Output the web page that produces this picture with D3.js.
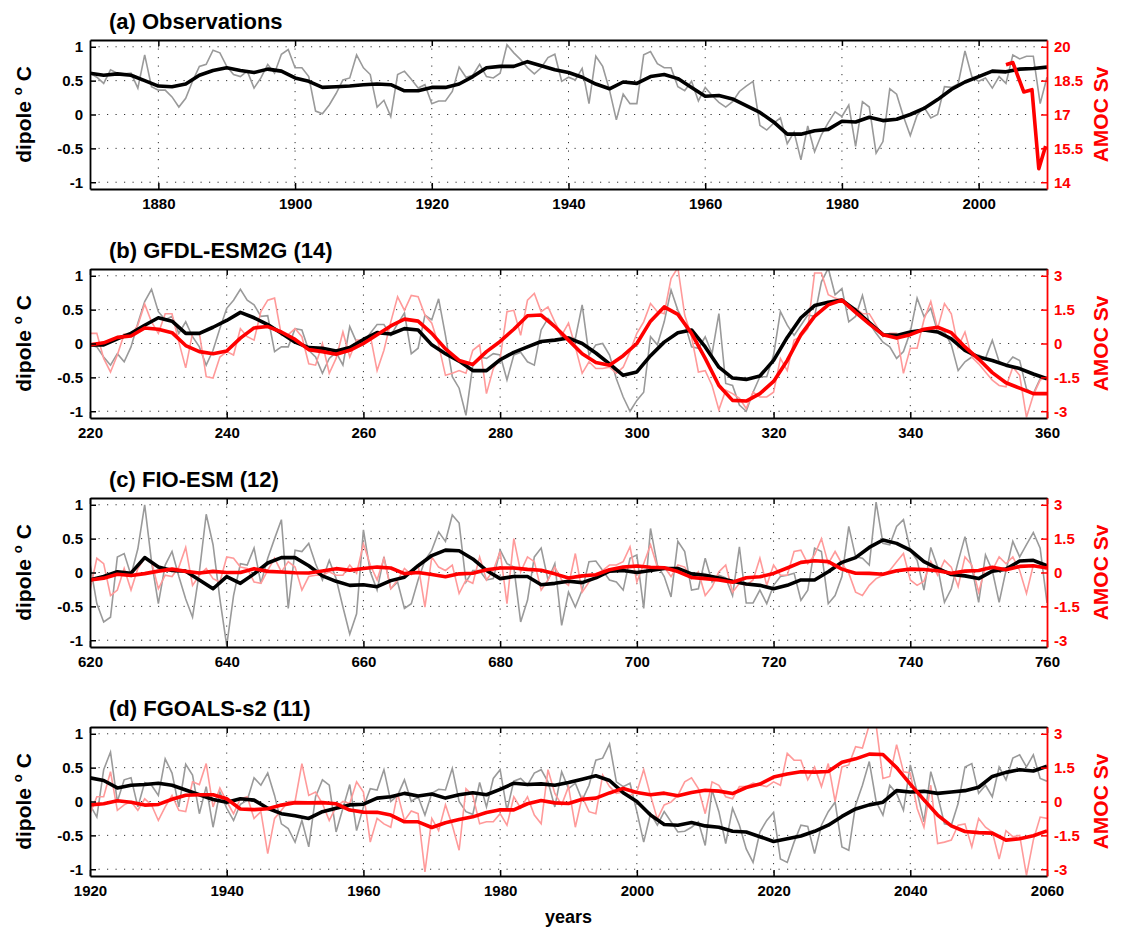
<!DOCTYPE html>
<html>
<head>
<meta charset="utf-8">
<script src="https://cdn.jsdelivr.net/npm/d3@7/dist/d3.min.js"></script>
<style>
body { margin: 0; background: #fff; }
svg text { font-family: "Liberation Sans", Arial, Helvetica, sans-serif; font-weight: bold; }
.tick text { font-size: 15px; }
.grid line { stroke: #333; stroke-width: 1; stroke-dasharray: 1.2,7.3; }
</style>
</head>
<body>
<script>
// ---- data: dipole in deg C (left axis), AMOC in Sv (right axis) ----
// raw series are annual, smoothed series every 2 years

// (a) Observations, 1870-2010
var obsDipole = [0.61,0.55,0.46,0.66,0.61,0.60,0.61,0.39,0.88,0.41,
  0.36,0.36,0.26,0.11,0.24,0.49,0.71,0.74,0.95,0.91,
  0.71,0.59,0.56,0.64,0.39,0.54,0.74,0.61,0.89,0.96,
  0.69,0.69,0.56,0.05,0.01,0.14,0.31,0.51,0.54,0.88,
  0.69,0.59,0.11,0.21,-0.03,0.59,0.64,0.52,0.39,0.44,
  0.16,0.20,0.20,0.34,0.70,0.55,0.58,0.74,0.56,0.54,
  0.61,1.03,0.91,0.81,0.69,0.60,0.69,0.84,0.89,0.49,
  0.55,0.51,0.68,0.16,0.86,0.71,0.36,-0.08,0.30,0.16,
  0.16,0.88,0.93,0.75,0.69,0.69,0.41,0.35,0.49,0.20,
  0.40,0.28,0.18,0.11,0.19,0.34,0.42,0.49,-0.16,-0.23,
  -0.13,-0.05,-0.43,-0.26,-0.67,-0.17,-0.55,-0.30,-0.12,0.04,
  -0.03,0.14,-0.47,0.19,0.11,-0.57,-0.40,0.38,0.30,-0.03,
  -0.31,-0.01,0.11,-0.05,0.00,0.41,0.40,0.45,0.94,0.56,
  0.49,0.54,0.39,0.56,0.46,0.88,0.82,0.86,0.86,0.16,
  0.55];
var obsDipoleSmooth = [0.61,0.58,0.60,0.58,0.50, 0.42,0.41,0.45,0.58,0.65,
  0.69,0.65,0.62,0.67,0.64, 0.54,0.49,0.40,0.41,0.42,
  0.44,0.45,0.44,0.35,0.35, 0.40,0.40,0.45,0.56,0.69,
  0.71,0.71,0.78,0.72,0.66, 0.62,0.55,0.45,0.38,0.48,
  0.46,0.56,0.59,0.53,0.40, 0.27,0.28,0.23,0.13,0.03,
  -0.11,-0.29,-0.29,-0.24,-0.22, -0.10,-0.11,-0.04,-0.09,-0.07,
  0.00,0.09,0.22,0.37,0.48, 0.56,0.64,0.63,0.67,0.68,
  0.70];
var obsAmocYears = [2004, 2005, 2006.6, 2007.8, 2008.8, 2009.8];
var obsAmoc = [19.2, 19.3, 18.0, 18.1, 14.6, 15.6];

// (b) GFDL-ESM2G, years 220-360
var gfdlDipole = [-0.02,-0.05,-0.20,-0.32,-0.15,-0.27,-0.05,0.30,0.62,0.80,
  0.47,0.35,0.40,0.15,0.32,0.10,-0.05,-0.32,-0.10,0.22,
  0.52,0.64,0.80,0.64,0.57,0.40,0.41,-0.12,-0.05,-0.05,
  0.22,0.20,-0.10,-0.20,-0.44,-0.22,-0.13,-0.32,0.25,0.02,
  0.02,0.15,0.28,0.28,0.12,0.29,0.45,-0.15,-0.07,0.42,
  0.35,0.66,0.12,-0.49,-0.66,-1.06,-0.32,-0.20,-0.22,-0.15,
  -0.17,-0.54,-0.17,-0.13,-0.27,-0.32,0.20,0.37,0.27,0.10,
  0.10,0.07,0.57,-0.17,-0.02,0.00,-0.17,-0.52,-0.79,-1.00,
  -0.84,-0.72,0.10,-0.02,0.32,0.79,0.49,0.30,-0.05,-0.07,
  0.10,-0.15,0.44,-0.59,-0.62,-0.91,-1.00,-0.72,-0.49,-0.49,
  -0.17,0.47,0.27,0.12,0.27,0.42,0.40,0.91,1.11,0.72,
  0.81,0.32,0.40,0.71,0.30,0.15,0.02,-0.05,-0.22,-0.12,
  0.17,0.67,0.40,0.52,0.17,0.17,-0.02,-0.40,-0.27,-0.20,
  -0.17,-0.22,0.05,-0.27,-0.32,-0.20,-0.25,-0.67,-0.74,-0.52,
  -0.50];
var gfdlDipoleSmooth = [-0.02,-0.02,0.07,0.15,0.27, 0.38,0.33,0.15,0.15,0.24,
  0.34,0.46,0.38,0.28,0.15, 0.02,-0.06,-0.07,-0.11,-0.06,
  0.06,0.16,0.14,0.22,0.20, -0.02,-0.15,-0.26,-0.40,-0.40,
  -0.24,-0.13,-0.05,0.03,0.05, 0.08,0.00,-0.14,-0.30,-0.47,
  -0.42,-0.18,0.02,0.16,0.20, -0.05,-0.35,-0.51,-0.53,-0.48,
  -0.25,0.09,0.38,0.56,0.61, 0.64,0.49,0.31,0.13,0.12,
  0.17,0.20,0.17,0.07,-0.10, -0.20,-0.25,-0.32,-0.37,-0.45,
  -0.52];
var gfdlAmoc = [0.45,0.45,-0.66,-1.26,-0.51,0.42,0.36,0.81,1.74,0.96,
  0.45,1.32,1.32,0.06,-1.08,0.45,0.45,-1.47,-1.53,-0.60,
  -0.36,-0.51,0.66,0.30,0.15,1.41,1.92,2.01,0.36,0.39,
  0.66,0.30,-0.90,-0.96,0.00,-1.32,-0.66,0.51,-0.60,0.15,
  0.15,0.36,-1.20,-0.30,0.96,2.07,1.47,2.13,2.07,1.26,
  0.90,-0.06,-1.41,-1.32,-1.20,-1.32,-0.30,-0.06,-2.22,-1.11,
  -0.66,1.41,1.47,0.36,1.92,2.22,1.41,1.62,0.96,0.36,
  0.90,-0.15,-1.32,-0.81,-1.11,-1.11,-1.05,-1.32,-1.05,-0.36,
  0.45,0.96,1.77,1.41,1.32,2.88,3.36,1.26,0.30,-1.26,
  -1.20,-1.86,-2.94,-2.07,-2.22,-2.43,-2.88,-2.16,-2.37,-2.37,
  -2.16,-0.66,-1.20,0.15,0.30,0.66,3.12,3.12,2.16,2.01,
  1.92,1.56,1.56,1.32,1.32,0.81,0.30,0.45,0.45,-1.32,
  -0.21,-0.21,1.05,1.86,0.66,1.77,1.32,-0.15,0.51,-0.60,
  -0.90,-1.26,-1.62,-1.86,-1.92,-1.05,-1.41,-3.27,-2.28,-1.62,
  -1.50];
var gfdlAmocSmooth = [-0.06,0.03,0.27,0.33,0.69, 0.63,0.48,-0.09,-0.36,-0.45,
  -0.33,0.24,0.69,0.75,0.51, 0.18,-0.27,-0.36,-0.48,-0.30,
  0.00,0.39,0.78,1.08,0.99, 0.45,-0.24,-0.75,-0.93,-0.36,
  0.09,0.63,1.23,1.26,0.75, 0.15,-0.45,-0.84,-0.96,-0.54,
  0.00,0.99,1.62,1.29,0.45, -0.66,-1.86,-2.52,-2.55,-2.22,
  -1.68,-0.75,0.39,1.20,1.71, 1.92,1.38,0.87,0.39,0.24,
  0.39,0.63,0.72,0.48,-0.15, -0.69,-1.29,-1.74,-1.98,-2.22,
  -2.22];

// (c) FIO-ESM, years 620-760
var fioDipole = [0.13,-0.46,-0.73,-0.66,0.23,0.28,-0.04,0.35,1.00,0.16,
  -0.46,0.11,0.31,-0.06,-0.39,-0.66,0.01,0.86,0.41,-0.39,
  -1.08,-0.34,0.13,0.11,0.36,-0.16,0.21,0.50,0.78,-0.53,
  0.33,0.31,0.43,0.13,-0.11,0.18,-0.09,-0.51,-0.91,-0.61,
  0.63,0.01,-0.26,0.23,-0.24,-0.14,-0.53,-0.46,-0.11,0.18,
  0.33,0.60,0.46,0.85,0.73,-0.14,0.03,0.03,-0.11,-0.09,
  0.33,0.13,0.08,-0.73,-0.41,0.23,0.36,-0.11,0.13,-0.78,
  -0.29,-0.51,-0.26,0.16,0.17,0.03,-0.11,-0.14,-0.26,0.21,
  0.26,-0.53,0.65,0.11,-0.06,-0.36,0.46,0.31,-0.26,-0.24,
  0.21,-0.14,-0.04,-0.08,-0.34,0.38,-0.45,-0.45,-0.26,-0.46,
  -0.19,-0.06,-0.04,-0.01,-0.41,-0.26,0.36,0.31,-0.46,-0.34,
  -0.06,0.68,0.23,0.21,0.11,1.04,0.43,0.41,0.68,0.78,
  0.33,0.18,-0.26,0.37,0.08,-0.44,-0.24,0.16,0.53,0.08,
  -0.44,0.26,0.03,-0.44,0.03,0.46,0.23,0.41,0.59,0.36,
  -0.45];
var fioDipoleSmooth = [-0.11,-0.06,0.01,-0.01,0.22, 0.08,0.03,0.02,-0.11,-0.24,
  -0.06,-0.16,-0.02,0.14,0.22, 0.22,0.10,-0.05,-0.13,-0.19,
  -0.18,-0.21,-0.12,-0.07,0.10, 0.25,0.33,0.32,0.20,0.03,
  -0.09,-0.06,-0.06,-0.18,-0.16, -0.13,-0.15,-0.08,0.02,0.03,
  0.00,0.03,0.06,0.06,-0.02, -0.04,-0.08,-0.13,-0.17,-0.19,
  -0.24,-0.19,-0.11,-0.11,0.01, 0.15,0.22,0.37,0.48,0.43,
  0.33,0.16,0.06,-0.03,-0.05, -0.09,0.02,0.05,0.17,0.18,
  0.10];
var fioAmoc = [-0.78,0.63,0.39,-1.02,-0.78,0.18,-0.78,0.18,0.63,0.48,
  -0.72,-0.12,-0.18,0.24,1.11,-0.57,-0.12,0.18,-0.27,-0.42,
  0.69,0.63,0.24,0.18,-0.42,-0.48,0.09,0.63,0.03,0.48,
  0.24,-0.78,-0.18,-0.12,-0.12,0.03,-0.12,-0.12,0.33,-0.03,
  1.26,0.33,-0.33,0.63,-0.72,-0.33,0.18,-0.09,0.33,-1.53,
  0.69,0.24,0.09,0.33,-0.93,-0.33,-0.48,0.69,-0.33,0.09,
  0.93,-1.38,1.50,0.03,0.69,0.48,-0.78,-0.33,0.24,-0.33,
  -0.57,0.84,-0.87,-0.42,-0.12,0.09,0.33,0.33,0.48,1.14,
  -0.42,0.39,1.23,0.24,0.24,-0.18,0.33,0.24,-0.27,0.03,
  -1.02,-0.63,0.03,0.33,-0.87,-0.48,-0.57,-0.33,0.63,-0.57,
  0.33,-0.12,-0.12,0.93,0.99,0.39,0.78,1.50,0.39,0.93,
  0.39,-0.03,-0.87,-1.02,-0.57,-0.27,-0.12,0.09,0.48,0.84,
  -0.33,-0.57,-0.39,0.48,-0.12,0.54,0.24,-0.63,0.69,0.33,
  -0.87,0.24,0.09,0.69,0.39,0.69,0.09,-0.93,0.33,0.24,
  0.15];
var fioAmocSmooth = [-0.33,-0.25,-0.08,-0.13,-0.05, 0.06,0.15,0.05,-0.02,0.05,
  0.00,0.00,0.17,0.05,0.02, -0.01,-0.02,0.07,0.17,0.10,
  0.18,0.24,0.20,-0.05,0.00, -0.09,-0.19,-0.06,-0.03,0.12,
  0.20,0.20,0.14,0.10,-0.06, -0.24,-0.15,-0.10,0.12,0.24,
  0.29,0.23,0.21,0.04,-0.22, -0.27,-0.33,-0.43,-0.23,-0.19,
  -0.04,0.20,0.45,0.52,0.48, 0.15,-0.03,-0.04,-0.08,0.08,
  0.15,0.13,0.08,-0.03,0.06, 0.09,0.23,0.12,0.27,0.30,
  0.20];

// (d) FGOALS-s2, years 1920-2060
var fgoalsDipole = [-0.05,-0.23,0.47,0.73,0.00,0.32,0.35,-0.08,0.28,0.24,
  0.09,0.63,0.42,-0.08,0.55,0.39,-0.18,0.22,-0.38,0.14,
  -0.10,-0.28,-0.04,0.02,0.35,0.24,0.42,0.09,-0.33,-0.40,
  -0.60,-0.28,-0.67,0.07,0.32,0.24,-0.45,-0.10,0.25,-0.43,
  -0.08,0.19,0.17,0.47,0.00,0.09,0.32,0.00,0.07,-0.20,
  0.12,0.18,0.17,0.49,0.00,-0.15,-0.19,0.28,-0.08,0.34,
  0.47,-0.13,0.30,0.34,0.24,0.42,0.47,0.29,-0.08,0.44,
  0.19,0.27,0.02,0.24,0.61,0.64,0.85,0.29,0.22,0.27,
  -0.15,-0.60,-0.18,-0.35,-0.15,-0.30,-0.45,-0.44,-0.38,-0.30,
  -0.65,0.17,-0.15,-0.62,-0.10,-0.35,-0.70,-0.90,-0.45,-0.28,
  -0.16,-0.85,-0.90,-0.60,-0.35,-0.37,-0.77,-0.35,-0.15,-0.01,
  -0.67,-0.72,-0.05,0.24,0.59,0.00,-0.20,0.24,0.12,-0.13,
  0.54,0.14,-0.30,0.44,0.09,-0.33,-0.35,-0.03,0.51,0.56,
  0.12,0.24,0.07,0.51,0.32,0.64,0.69,0.51,0.69,0.34,
  0.30];
var fgoalsDipoleSmooth = [0.35,0.31,0.20,0.24,0.25, 0.27,0.24,0.17,0.10,0.03,
  -0.01,0.04,0.02,-0.10,-0.18, -0.21,-0.25,-0.15,-0.10,-0.05,
  -0.04,0.05,0.07,0.12,0.08, 0.11,0.05,0.10,0.13,0.10,
  0.18,0.27,0.25,0.26,0.24, 0.28,0.33,0.38,0.31,0.13,
  0.00,-0.20,-0.34,-0.35,-0.31, -0.36,-0.38,-0.44,-0.45,-0.52,
  -0.59,-0.55,-0.51,-0.44,-0.35, -0.22,-0.11,-0.05,-0.01,0.16,
  0.14,0.15,0.12,0.14,0.16, 0.21,0.37,0.43,0.47,0.45,
  0.52];
var fgoalsAmoc = [-0.54,0.21,0.21,1.32,-0.39,-0.15,0.00,-0.39,0.12,-0.15,
  -0.84,-0.24,0.27,-0.39,-0.45,0.87,0.75,1.68,-0.24,0.60,
  0.00,-0.54,0.12,0.21,-0.75,-0.45,-2.31,-0.75,-0.39,0.00,
  0.00,1.68,0.27,0.42,-0.09,-0.84,-0.24,0.00,-0.09,0.87,
  0.42,-1.80,-0.75,-0.99,-1.14,0.36,-0.84,-0.42,-0.54,-3.12,
  -0.75,-1.29,-0.15,-1.05,-2.16,0.57,0.27,-0.99,-0.90,-0.90,
  -0.54,-1.05,0.21,-0.30,0.21,-0.60,-0.99,1.41,0.36,-0.15,
  0.66,-1.14,0.21,-0.45,-0.54,1.17,0.66,0.36,0.42,0.27,
  0.42,1.41,0.27,-0.78,-0.15,-0.03,0.27,0.87,1.05,0.57,
  -0.54,0.87,0.72,0.21,0.12,0.66,0.66,0.81,0.72,0.66,
  0.87,0.72,2.13,1.83,1.83,0.96,1.53,0.66,1.68,0.00,
  1.53,1.62,2.43,2.37,3.39,3.39,1.02,1.11,2.52,1.32,
  1.26,-0.30,-1.14,0.72,-1.86,-1.80,-1.71,-1.05,-0.99,-2.01,
  -0.75,-1.14,-1.35,-2.55,-1.29,-1.56,-1.50,-3.27,-1.71,-0.69,
  -0.75];
var fgoalsAmocSmooth = [-0.15,-0.10,0.03,-0.03,-0.16, -0.13,0.10,0.28,0.30,0.30,
  0.12,-0.33,-0.36,-0.32,-0.16, -0.05,-0.06,-0.05,-0.10,-0.38,
  -0.47,-0.48,-0.60,-0.90,-0.90, -1.15,-0.94,-0.80,-0.68,-0.49,
  -0.37,-0.37,-0.10,0.04,-0.06, -0.09,0.10,0.15,0.38,0.58,
  0.40,0.30,0.37,0.25,0.40, 0.50,0.46,0.35,0.62,0.77,
  1.08,1.22,1.32,1.30,1.33, 1.74,1.89,2.10,2.08,1.50,
  0.77,0.07,-0.60,-1.08,-1.33, -1.38,-1.40,-1.71,-1.65,-1.52,
  -1.30];

var dipoleTicks = [-1, -0.5, 0, 0.5, 1];

var panels = [
  {title: "(a) Observations", start: 1870,
   dipole: obsDipole, dipoleSmooth: obsDipoleSmooth,
   amoc: null, amocSmoothYears: obsAmocYears, amocSmooth: obsAmoc,
   right: [13.7, 20.3], rightTicks: [14, 15.5, 17, 18.5, 20]},
  {title: "(b) GFDL-ESM2G (14)", start: 220,
   dipole: gfdlDipole, dipoleSmooth: gfdlDipoleSmooth,
   amoc: gfdlAmoc, amocSmooth: gfdlAmocSmooth,
   right: [-3.3, 3.3], rightTicks: [-3, -1.5, 0, 1.5, 3]},
  {title: "(c) FIO-ESM (12)", start: 620,
   dipole: fioDipole, dipoleSmooth: fioDipoleSmooth,
   amoc: fioAmoc, amocSmooth: fioAmocSmooth,
   right: [-3.3, 3.3], rightTicks: [-3, -1.5, 0, 1.5, 3]},
  {title: "(d) FGOALS-s2 (11)", start: 1920,
   dipole: fgoalsDipole, dipoleSmooth: fgoalsDipoleSmooth,
   amoc: fgoalsAmoc, amocSmooth: fgoalsAmocSmooth,
   right: [-3.3, 3.3], rightTicks: [-3, -1.5, 0, 1.5, 3]}
];

var width = 1137, height = 933;
var plotLeft = 90, plotRight = 1047, plotHeight = 149, span = 140;
var panelTops = [40, 269, 498, 727];

function series(values, start, step) {
  return values.map(function(v, i) { return {t: start + i * step, v: v}; });
}
function fmt(d) { return String(d); }

var svg = d3.select("body").append("svg")
    .attr("width", width)
    .attr("height", height);

panels.forEach(function(p, i) {
  var top = panelTops[i], bottom = top + plotHeight;

  var x = d3.scaleLinear().domain([p.start, p.start + span]).range([plotLeft, plotRight]);
  var y = d3.scaleLinear().domain([-1.1, 1.1]).range([bottom, top]);
  var y2 = d3.scaleLinear().domain(p.right).range([bottom, top]);
  var xTicks = d3.range(Math.ceil(p.start / 20) * 20, p.start + span + 1, 20);

  var g = svg.append("g");

  // dotted grid
  var grid = g.append("g").attr("class", "grid");
  grid.selectAll(".gx")
      .data(xTicks.filter(function(t) { return t > p.start && t < p.start + span; }))
    .enter().append("line")
      .attr("x1", x).attr("x2", x)
      .attr("y1", top).attr("y2", bottom);
  grid.selectAll(".gy")
      .data(dipoleTicks)
    .enter().append("line")
      .attr("x1", plotLeft).attr("x2", plotRight)
      .attr("y1", y).attr("y2", y);

  g.append("clipPath").attr("id", "clip" + i)
    .append("rect")
      .attr("x", plotLeft).attr("y", top)
      .attr("width", plotRight - plotLeft).attr("height", plotHeight);

  var lines = g.append("g").attr("clip-path", "url(#clip" + i + ")");
  var lineL = d3.line().x(function(d) { return x(d.t); }).y(function(d) { return y(d.v); });
  var lineR = d3.line().x(function(d) { return x(d.t); }).y(function(d) { return y2(d.v); });

  lines.append("path")
      .datum(series(p.dipole, p.start, 1))
      .attr("d", lineL)
      .attr("fill", "none").attr("stroke", "#9a9a9a").attr("stroke-width", 1.6);

  if (p.amoc) {
    lines.append("path")
        .datum(series(p.amoc, p.start, 1))
        .attr("d", lineR)
        .attr("fill", "none").attr("stroke", "#ff9a9a").attr("stroke-width", 1.6);
  }

  lines.append("path")
      .datum(series(p.dipoleSmooth, p.start, 2))
      .attr("d", lineL)
      .attr("fill", "none").attr("stroke", "#000").attr("stroke-width", 3.6)
      .attr("stroke-linejoin", "round");

  var redData = p.amocSmoothYears
      ? p.amocSmooth.map(function(v, k) { return {t: p.amocSmoothYears[k], v: v}; })
      : series(p.amocSmooth, p.start, 2);
  lines.append("path")
      .datum(redData)
      .attr("d", lineR)
      .attr("fill", "none").attr("stroke", "#ff0000").attr("stroke-width", 3.6)
      .attr("stroke-linejoin", "round");

  // axes, ticks pointing inward
  g.append("g")
      .attr("transform", "translate(0," + bottom + ")")
      .call(d3.axisBottom(x).tickValues(xTicks).tickSize(-6).tickSizeOuter(0)
        .tickPadding(9).tickFormat(d3.format("d")));
  g.append("g")
      .attr("transform", "translate(0," + top + ")")
      .call(d3.axisTop(x).tickValues(xTicks).tickSize(-6).tickSizeOuter(0).tickFormat(""));
  g.append("g")
      .attr("transform", "translate(" + plotLeft + ",0)")
      .call(d3.axisLeft(y).tickValues(dipoleTicks).tickSize(-6).tickSizeOuter(0)
        .tickPadding(7).tickFormat(fmt));
  g.append("g")
      .attr("transform", "translate(" + plotRight + ",0)")
      .attr("color", "#ff0000")
      .call(d3.axisRight(y2).tickValues(p.rightTicks).tickSize(-6).tickSizeOuter(0)
        .tickPadding(7).tickFormat(fmt));
  g.selectAll(".domain").attr("stroke-width", 1.8);
  g.selectAll(".tick line").attr("stroke-width", 1.5);

  // titles and labels
  g.append("text")
      .attr("x", 109).attr("y", top - 11)
      .attr("font-size", 22)
      .text(p.title);

  var yl = g.append("text")
      .attr("transform", "translate(31," + (top + bottom) / 2 + ") rotate(-90)")
      .attr("text-anchor", "middle")
      .attr("font-size", 21);
  yl.append("tspan").text("dipole ");
  yl.append("tspan").attr("font-size", 13).attr("dy", -9).text("o");
  yl.append("tspan").attr("dy", 9).text(" C");

  g.append("text")
      .attr("transform", "translate(1108," + (top + bottom) / 2 + ") rotate(-90)")
      .attr("text-anchor", "middle")
      .attr("font-size", 21)
      .attr("fill", "#ff0000")
      .text("AMOC Sv");
});

svg.append("text")
    .attr("x", (plotLeft + plotRight) / 2).attr("y", 923)
    .attr("text-anchor", "middle")
    .attr("font-size", 18)
    .text("years");
</script>
</body>
</html>
